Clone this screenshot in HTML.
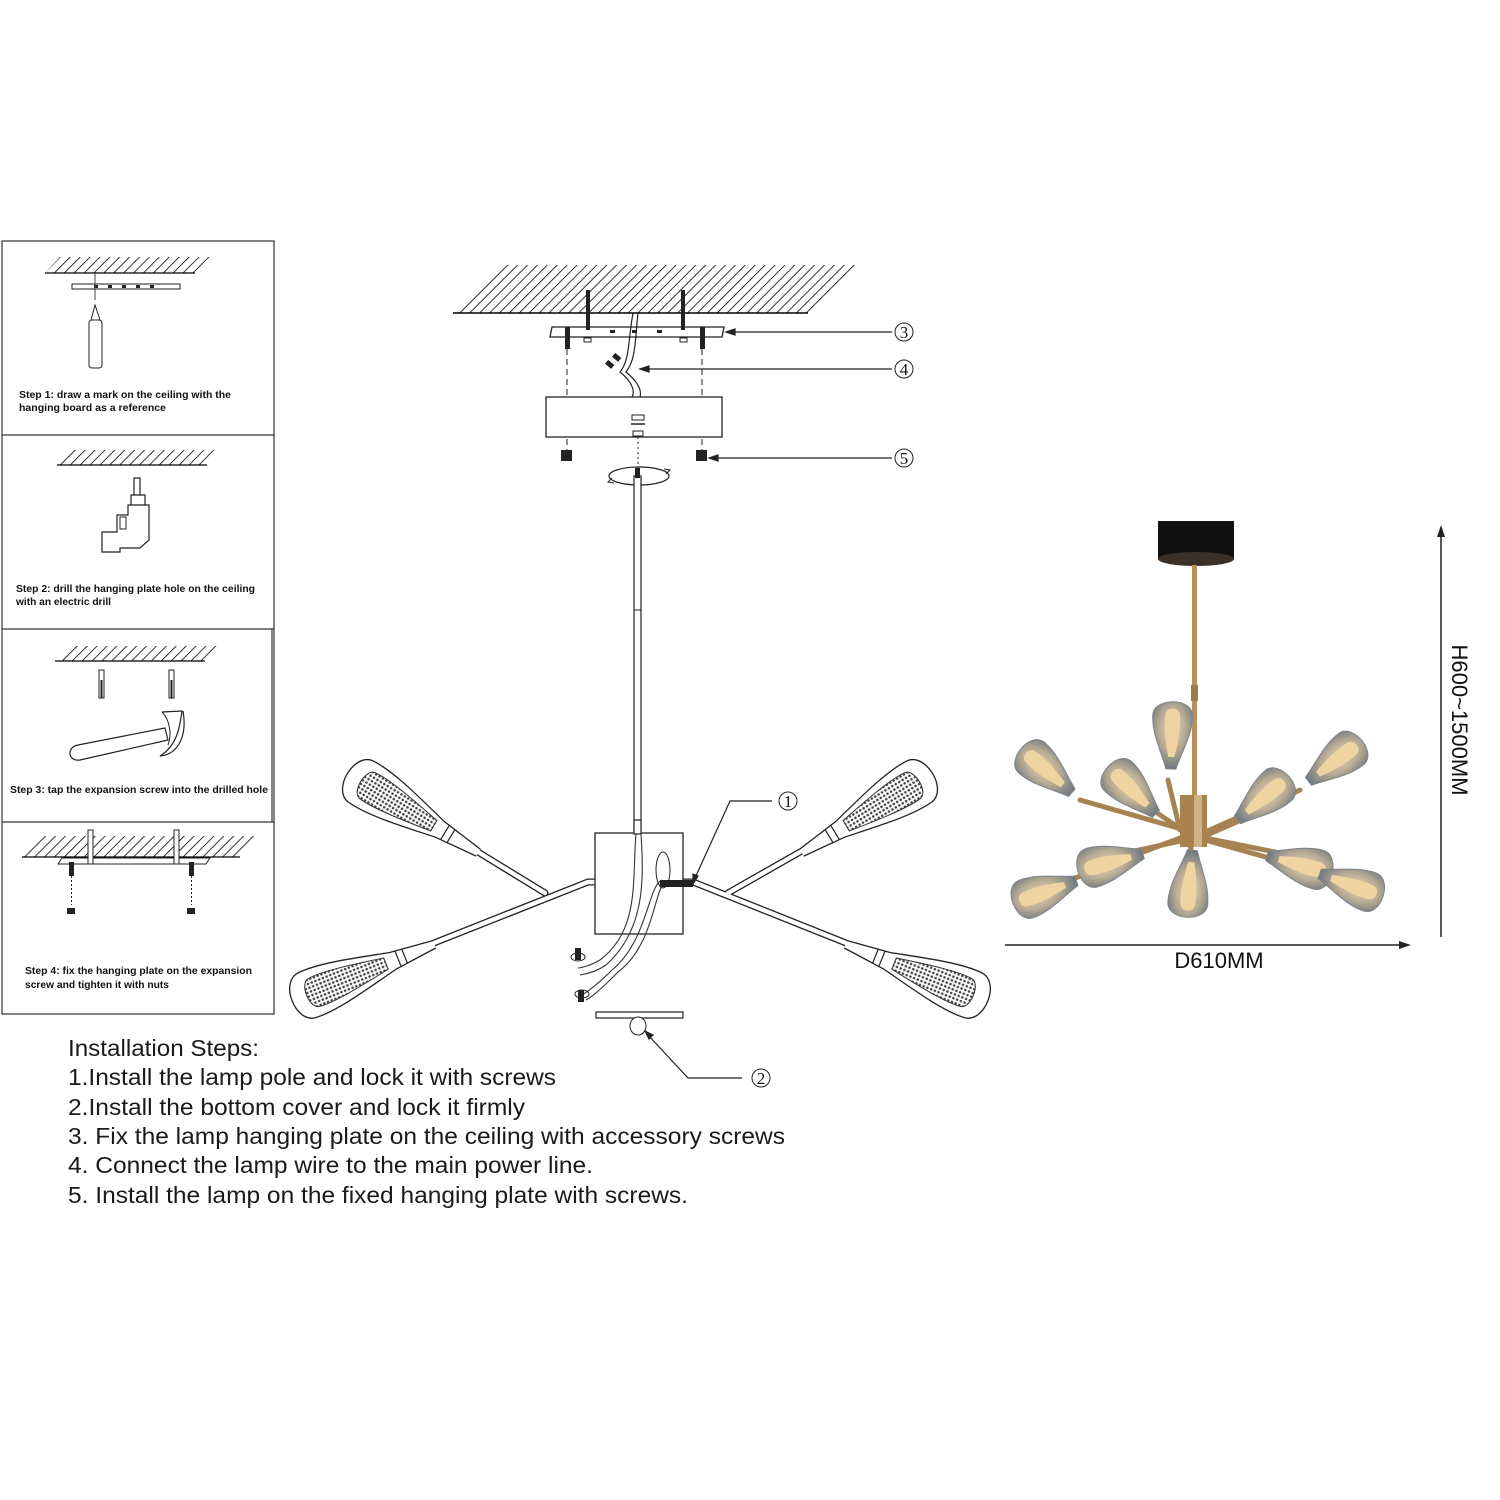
<!DOCTYPE html>
<html><head><meta charset="utf-8"><style>html,body{margin:0;padding:0;background:#fff}svg{display:block}</style></head><body>
<svg width="1500" height="1500" viewBox="0 0 1500 1500" xmlns="http://www.w3.org/2000/svg" font-family="Liberation Sans, sans-serif">
<defs>
<pattern id="hatch" width="7" height="7" patternUnits="userSpaceOnUse" patternTransform="rotate(45)"><line x1="0" y1="0" x2="0" y2="7" stroke="#000" stroke-width="1.6"/></pattern>
<pattern id="mesh" width="4" height="4" patternUnits="userSpaceOnUse"><rect width="4" height="4" fill="#fff"/><circle cx="2" cy="2" r="1.3" fill="#444"/></pattern>
<g id="head">
<path d="M-150,-4 L-105,-9 C-70,-17 -35,-26 -12,-24 C8,-21 8,21 -12,24 C-35,26 -70,17 -105,9 L-150,4" fill="#fff" stroke="#222" stroke-width="1.3"/>
<path d="M-98,-6 C-65,-12 -35,-17 -20,-15 C-10,-13 -10,13 -20,15 C-35,17 -65,12 -98,6 Z" fill="url(#mesh)" stroke="#333" stroke-width="1"/>
<line x1="-118" y1="-8" x2="-118" y2="8" stroke="#222" stroke-width="1.2"/>
<line x1="-111" y1="-8" x2="-111" y2="8" stroke="#222" stroke-width="1.2"/>
</g>
<radialGradient id="glass" cx="0.6" cy="0.5" r="0.6"><stop offset="0" stop-color="#e8d6b4"/><stop offset="0.55" stop-color="#b8ab94"/><stop offset="1" stop-color="#6f7880"/></radialGradient>
<g id="bulb">
<path d="M-62,-5 C-45,-10 -28,-20 -9,-20 C9,-20 11,20 -9,20 C-28,20 -45,10 -62,5 Z" fill="url(#glass)" stroke="#7d848c" stroke-width="1"/>
<path d="M-50,-3 C-34,-7 -17,-9 -6,-7 C0,-5 0,5 -6,7 C-17,9 -34,7 -50,3 Z" fill="#efd4a2"/>
</g>
</defs>

<!-- Left panels -->
<g fill="none" stroke="#333" stroke-width="1.2">
<rect x="2" y="241" width="272" height="773"/>
<line x1="2" y1="435" x2="274" y2="435"/>
<line x1="2" y1="629" x2="274" y2="629"/>
<line x1="2" y1="822" x2="274" y2="822"/>
<line x1="272" y1="629" x2="272" y2="822"/>
</g>
<path d="M45,273 L60,257 L210,257 L195,273 Z" fill="url(#hatch)"/>
<line x1="45" y1="273" x2="195" y2="273" stroke="#000" stroke-width="1.2"/>
<rect x="72" y="284" width="108" height="5" fill="#fff" stroke="#222"/>
<g fill="#222"><rect x="94" y="285" width="4" height="3"/><rect x="108" y="285" width="4" height="3"/><rect x="122" y="285" width="4" height="3"/><rect x="136" y="285" width="4" height="3"/><rect x="150" y="285" width="4" height="3"/></g>
<line x1="95" y1="273" x2="95" y2="300" stroke="#444"/>
<rect x="89" y="320" width="13" height="48" rx="3" fill="#fff" stroke="#222"/>
<path d="M91,320 L95,305 L100,320" fill="none" stroke="#222"/>
<g font-size="10" font-weight="bold" fill="#111">
<text x="19" y="398" textLength="212" lengthAdjust="spacingAndGlyphs">Step 1: draw a mark on the ceiling with the</text>
<text x="19" y="411" textLength="147" lengthAdjust="spacingAndGlyphs">hanging board as a reference</text>
<text x="16" y="592" textLength="239" lengthAdjust="spacingAndGlyphs">Step 2: drill the hanging plate hole on the ceiling</text>
<text x="16" y="605" textLength="95" lengthAdjust="spacingAndGlyphs">with an electric drill</text>
<text x="10" y="793" textLength="258" lengthAdjust="spacingAndGlyphs">Step 3: tap the expansion screw into the drilled hole</text>
<text x="25" y="974" textLength="227" lengthAdjust="spacingAndGlyphs">Step 4: fix the hanging plate on the expansion</text>
<text x="25" y="988" textLength="144" lengthAdjust="spacingAndGlyphs">screw and tighten it with nuts</text>
</g>
<path d="M57,465 L72,450 L222,450 L207,465 Z" fill="url(#hatch)"/>
<line x1="57" y1="465" x2="207" y2="465" stroke="#000" stroke-width="1.2"/>
<path d="M134,478 L140,478 L140,495 L134,495 Z M131,495 L145,495 L145,505 L131,505 Z M128,505 L149,505 L149,540 L140,548 L120,548 L120,552 L102,552 L102,532 L117,532 L117,515 L128,515 Z" fill="#fff" stroke="#222" stroke-width="1.2"/>
<rect x="120" y="517" width="6" height="12" fill="none" stroke="#222"/>
<path d="M55,661 L70,646 L220,646 L205,661 Z" fill="url(#hatch)"/>
<line x1="55" y1="661" x2="205" y2="661" stroke="#000" stroke-width="1.2"/>
<rect x="99" y="670" width="5" height="28" fill="#fff" stroke="#222"/>
<rect x="169" y="670" width="5" height="28" fill="#fff" stroke="#222"/>
<line x1="101.5" y1="680" x2="101.5" y2="698" stroke="#222" stroke-width="2"/>
<line x1="171.5" y1="680" x2="171.5" y2="698" stroke="#222" stroke-width="2"/>
<path d="M78,745 L165,728 L168,740 L80,760 C68,762 66,747 78,745 Z" fill="#fff" stroke="#222" stroke-width="1.2"/>
<path d="M162,712 L182,711 C180,725 178,745 160,756 C175,755 188,740 183,711" fill="#fff" stroke="#222" stroke-width="1.2"/>
<path d="M162,712 C170,720 172,735 168,745" fill="none" stroke="#222"/>
<path d="M22,857 L37,836 L255,836 L240,857 Z" fill="url(#hatch)"/>
<line x1="22" y1="857" x2="240" y2="857" stroke="#000" stroke-width="1.2"/>
<path d="M58,864 L62,858 L210,858 L206,864 Z" fill="#fff" stroke="#222"/>
<rect x="88" y="830" width="5" height="34" fill="#fff" stroke="#222"/>
<rect x="174" y="830" width="5" height="34" fill="#fff" stroke="#222"/>
<rect x="69" y="862" width="5" height="14" fill="#222"/>
<rect x="189" y="862" width="5" height="14" fill="#222"/>
<line x1="71.5" y1="876" x2="71.5" y2="905" stroke="#222" stroke-dasharray="2,2"/>
<line x1="191.5" y1="876" x2="191.5" y2="905" stroke="#222" stroke-dasharray="2,2"/>
<rect x="67" y="908" width="8" height="6" fill="#222"/>
<rect x="187" y="908" width="8" height="6" fill="#222"/>

<!-- Center diagram -->
<path d="M453,313 L503,265 L858,265 L808,313 Z" fill="url(#hatch)"/>
<line x1="453" y1="313" x2="808" y2="313" stroke="#000" stroke-width="1.5"/>
<path d="M550,337 L552,327 L724,327 L722,337 Z" fill="#fff" stroke="#222" stroke-width="1.3"/>
<g fill="#222">
<rect x="586" y="290" width="4" height="40"/><rect x="681" y="290" width="4" height="40"/>
<rect x="565" y="327" width="5" height="22"/><rect x="700" y="327" width="5" height="22"/>
<rect x="610" y="330" width="5" height="3"/><rect x="632" y="330" width="5" height="3"/><rect x="657" y="330" width="5" height="3"/>
</g>
<rect x="584" y="338" width="7" height="4" fill="#fff" stroke="#222"/>
<rect x="680" y="338" width="7" height="4" fill="#fff" stroke="#222"/>
<line x1="567" y1="349" x2="567" y2="450" stroke="#222" stroke-dasharray="6,4"/>
<line x1="702" y1="349" x2="702" y2="450" stroke="#222" stroke-dasharray="6,4"/>
<path d="M633,313 C628,340 630,360 620,372 C630,380 636,390 632,397" fill="none" stroke="#222" stroke-width="1.2"/>
<path d="M638,313 C635,340 636,360 626,372 C638,382 642,390 640,397" fill="none" stroke="#222" stroke-width="1.2"/>
<rect x="606" y="362" width="8" height="5" fill="#222" transform="rotate(40 610 364)"/>
<rect x="613" y="355" width="8" height="5" fill="#222" transform="rotate(40 617 357)"/>
<rect x="546" y="397" width="176" height="40" fill="#fff" stroke="#222" stroke-width="1.3"/>
<rect x="632" y="415" width="12" height="5" fill="#fff" stroke="#222"/>
<line x1="631" y1="424" x2="645" y2="424" stroke="#222" stroke-width="1.5"/>
<rect x="633" y="431" width="10" height="5" fill="#fff" stroke="#222"/>
<line x1="638" y1="437" x2="638" y2="470" stroke="#222" stroke-dasharray="2,3"/>
<rect x="561" y="450" width="11" height="11" fill="#222"/>
<rect x="696" y="450" width="11" height="11" fill="#222"/>
<ellipse cx="639" cy="476" rx="30" ry="9" fill="none" stroke="#222" stroke-width="1.2"/>
<path d="M612,478 l-4,4 l6,1 M666,474 l4,-4 l-6,-1" fill="none" stroke="#222"/>
<rect x="634" y="476" width="7" height="360" fill="#fff" stroke="#222" stroke-width="1.2"/>
<rect x="635" y="468" width="5" height="10" fill="#222"/>
<line x1="634" y1="610" x2="641" y2="610" stroke="#222"/>
<g stroke="#222" stroke-width="1.2" fill="#222">
<line x1="732" y1="332" x2="892" y2="332"/><path d="M726,332 l9,-3 v6 z"/>
<line x1="645" y1="369" x2="892" y2="369"/><path d="M640,369 l9,-3 v6 z"/>
<line x1="714" y1="458" x2="892" y2="458"/><path d="M709,458 l9,-3 v6 z"/>
</g>
<g font-family="Liberation Serif, serif" font-size="17" text-anchor="middle" fill="#111">
<circle cx="904" cy="332" r="9" fill="none" stroke="#222"/><text x="904" y="338">3</text>
<circle cx="904" cy="369" r="9" fill="none" stroke="#222"/><text x="904" y="375">4</text>
<circle cx="904" cy="458" r="9" fill="none" stroke="#222"/><text x="904" y="464">5</text>
<circle cx="788" cy="801" r="9" fill="none" stroke="#222"/><text x="788" y="807">1</text>
<circle cx="761" cy="1078" r="9" fill="none" stroke="#222"/><text x="761" y="1084">2</text>
</g>
<g stroke="#222" stroke-width="7" stroke-linecap="round"><line x1="545" y1="893" x2="478" y2="852"/><line x1="728" y1="893" x2="800" y2="852"/>
<polyline points="596,882 588,882 434,943" fill="none"/><polyline points="683,882 693,882 846,943" fill="none"/></g>
<g stroke="#fff" stroke-width="4.4" stroke-linecap="round"><line x1="545" y1="893" x2="478" y2="852"/><line x1="728" y1="893" x2="800" y2="852"/>
<polyline points="596,882 588,882 434,943" fill="none"/><polyline points="683,882 693,882 846,943" fill="none"/></g>
<use href="#head" transform="translate(350,775) rotate(211.2)"/>
<use href="#head" transform="translate(930,775) rotate(-31.2)"/>
<use href="#head" transform="translate(295,1000) rotate(158.2)"/>
<use href="#head" transform="translate(985,1000) rotate(21.8)"/>
<rect x="595" y="833" width="88" height="101" fill="#fff" stroke="#222" stroke-width="1.3"/>
<rect x="634" y="820" width="7" height="14" fill="#fff" stroke="#222" stroke-width="1.2"/>
<g fill="none" stroke="#333" stroke-width="1.1">
<path d="M636,834 C632,880 640,930 600,960 C590,966 580,968 578,968"/>
<path d="M641,834 C644,880 645,930 606,965 C596,972 586,974 580,975"/>
<path d="M662,880 C648,885 648,940 612,970 C600,982 590,990 582,995"/>
<path d="M665,882 C654,890 654,945 618,972 C605,985 595,995 586,1000"/>
</g>
<ellipse cx="663" cy="870" rx="7" ry="18" fill="none" stroke="#222"/>
<rect x="660" y="880" width="33" height="7" fill="#222"/>
<rect x="575" y="948" width="6" height="12" fill="#222"/><rect x="578" y="990" width="6" height="12" fill="#222"/>
<ellipse cx="578" cy="957" rx="7" ry="4" fill="none" stroke="#222"/><ellipse cx="582" cy="994" rx="7" ry="4" fill="none" stroke="#222"/>
<rect x="596" y="1012" width="87" height="6" fill="#fff" stroke="#222" stroke-width="1.2"/>
<ellipse cx="638" cy="1026" rx="8" ry="9" fill="#fff" stroke="#222"/>
<g stroke="#222" stroke-width="1.2" fill="#222">
<polyline points="648,1035 688,1078 742,1078" fill="none"/><path d="M645,1031 l8,4 l-4,4 z"/>
<polyline points="695,878 730,801 772,801" fill="none"/><path d="M693,884 l0,-10 l5,2 z"/>
</g>
<g font-size="23" fill="#1a1a1a">
<text x="68" y="1056" textLength="191" lengthAdjust="spacingAndGlyphs">Installation Steps:</text>
<text x="68" y="1085" textLength="488" lengthAdjust="spacingAndGlyphs">1.Install the lamp pole and lock it with screws</text>
<text x="68" y="1115" textLength="457" lengthAdjust="spacingAndGlyphs">2.Install the bottom cover and lock it firmly</text>
<text x="68" y="1144" textLength="717" lengthAdjust="spacingAndGlyphs">3. Fix the lamp hanging plate on the ceiling with accessory screws</text>
<text x="68" y="1173" textLength="525" lengthAdjust="spacingAndGlyphs">4. Connect the lamp wire to the main power line.</text>
<text x="68" y="1203" textLength="620" lengthAdjust="spacingAndGlyphs">5. Install the lamp on the fixed hanging plate with screws.</text>
</g>

<!-- Photo -->
<rect x="1158" y="521" width="76" height="38" fill="#111"/>
<ellipse cx="1196" cy="559" rx="38" ry="7" fill="#3a3028"/>
<rect x="1192" y="565" width="5" height="230" fill="#b8905e"/>
<rect x="1191" y="685" width="7" height="16" fill="#a07a48"/>
<g stroke="#a88352" stroke-width="5" stroke-linecap="round">
<line x1="1185" y1="830" x2="1080" y2="800"/><line x1="1185" y1="832" x2="1150" y2="808"/>
<line x1="1180" y1="830" x2="1168" y2="780"/><line x1="1205" y1="832" x2="1300" y2="790"/>
<line x1="1205" y1="836" x2="1275" y2="805"/><line x1="1180" y1="838" x2="1075" y2="878"/>
<line x1="1185" y1="840" x2="1130" y2="852"/><line x1="1190" y1="840" x2="1192" y2="862"/>
<line x1="1205" y1="838" x2="1275" y2="852"/><line x1="1205" y1="840" x2="1330" y2="875"/>
</g>
<use href="#bulb" transform="translate(1025,752) rotate(221)"/>
<use href="#bulb" transform="translate(1112,770) rotate(225)"/>
<use href="#bulb" transform="translate(1173,707) rotate(272)"/>
<use href="#bulb" transform="translate(1358,744) rotate(-37)"/>
<use href="#bulb" transform="translate(1285,780) rotate(-40)"/>
<use href="#bulb" transform="translate(1018,902) rotate(160)"/>
<use href="#bulb" transform="translate(1083,870) rotate(165)"/>
<use href="#bulb" transform="translate(1187,912) rotate(95)"/>
<use href="#bulb" transform="translate(1327,872) rotate(15)"/>
<use href="#bulb" transform="translate(1378,895) rotate(20)"/>
<rect x="1180" y="795" width="27" height="52" fill="#a9834f"/>
<rect x="1194" y="795" width="8" height="52" fill="#d0b285"/>
<line x1="1441" y1="535" x2="1441" y2="937" stroke="#222" stroke-width="1.5"/>
<path d="M1441,525 l-4,12 h8 z" fill="#222"/>
<line x1="1005" y1="945" x2="1400" y2="945" stroke="#222" stroke-width="1.5"/>
<path d="M1411,945 l-12,-4 v8 z" fill="#222"/>
<text x="1219" y="968" font-size="22" text-anchor="middle" fill="#111">D610MM</text>
<text transform="translate(1452,720) rotate(90)" font-size="22" text-anchor="middle" fill="#111">H600~1500MM</text>
</svg>
</body></html>
